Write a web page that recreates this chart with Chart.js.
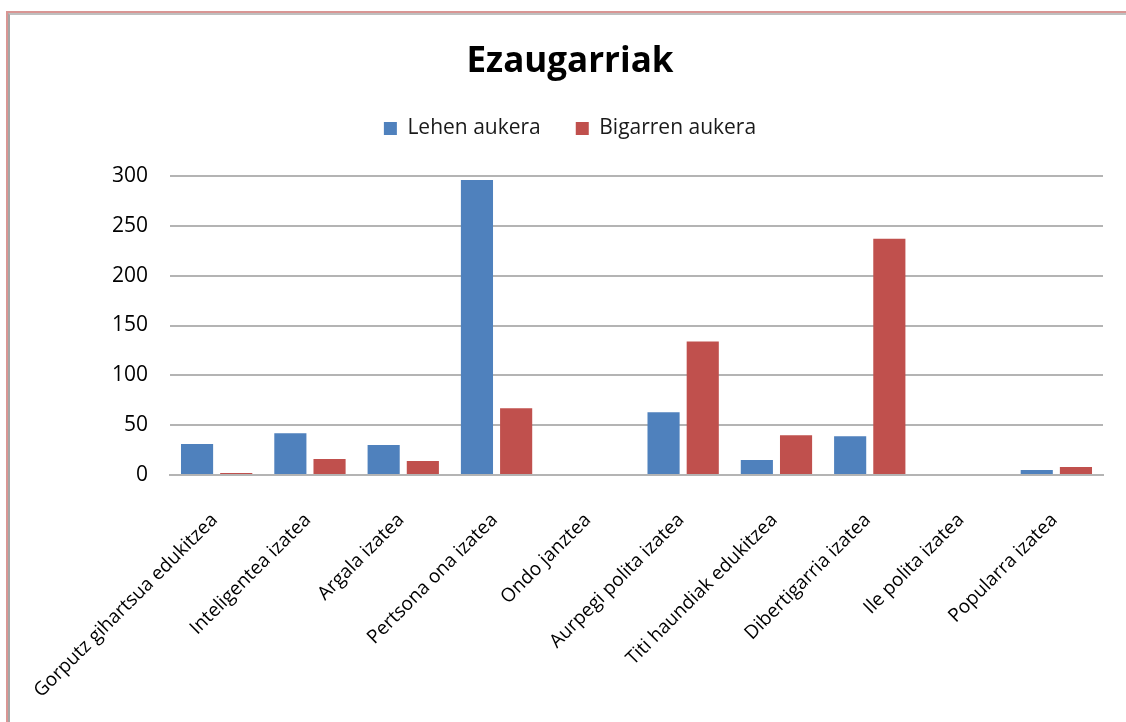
<!DOCTYPE html>
<html>
<head>
<meta charset="utf-8">
<script src="https://cdn.jsdelivr.net/npm/chart.js@4"></script>
<style>
  html, body { margin: 0; padding: 0; background: #fff; }
  #wrap { position: relative; width: 1126px; height: 722px; overflow: hidden; }
  #frame { position: absolute; left: 6px; top: 11px; right: -10px; bottom: -10px;
           border-left: 2px solid #d99694; border-top: 2px solid #d99694; }
  #frame2 { position: absolute; left: 8px; top: 13px; right: -10px; bottom: -10px;
            border-left: 2px solid #a6a6a6; border-top: 2px solid #bfbfbf; }
  canvas { position: absolute; left: 0; top: 0; }
</style>
</head>
<body>
<div id="wrap">
  <canvas id="chart" width="1126" height="722"></canvas>
  <div id="frame"></div>
  <div id="frame2"></div>
</div>
<script>
// Chart data
const categories = [
    'Gorputz gihartsua edukitzea',
    'Inteligentea izatea',
    'Argala izatea',
    'Pertsona ona izatea',
    'Ondo janztea',
    'Aurpegi polita izatea',
    'Titi haundiak edukitzea',
    'Dibertigarria izatea',
    'Ile polita izatea',
    'Popularra izatea'
];
const lehenAukera = [31, 42, 30, 296, 0, 63, 15, 39, 0, 5];
const bigarrenAukera = [2, 16, 14, 67, 1, 134, 40, 237, 1, 8];
const yTicks = [0, 50, 100, 150, 200, 250, 300];

const fontFamily = '"Open Sans", sans-serif';

const ctx = document.getElementById('chart').getContext('2d');
new Chart(ctx, {
    type: 'bar',
    data: {
        labels: categories,
        datasets: [
            {
                label: 'Lehen aukera',
                data: lehenAukera,
                backgroundColor: '#4f81bd',
                borderWidth: 0,
                categoryPercentage: 0.84,
                barPercentage: 0.82
            },
            {
                label: 'Bigarren aukera',
                data: bigarrenAukera,
                backgroundColor: '#c0504d',
                borderWidth: 0,
                categoryPercentage: 0.84,
                barPercentage: 0.82
            }
        ]
    },
    options: {
        responsive: false,
        animation: false,
        layout: {
            padding: { top: 15, left: 37, right: 23, bottom: 10 }
        },
        plugins: {
            title: {
                display: true,
                text: 'Ezaugarriak',
                color: '#000',
                font: { family: fontFamily, size: 35, weight: 'bold' },
                padding: { top: 26, bottom: 0 }
            },
            // empty subtitle used as a spacer between legend and plot
            subtitle: {
                display: true,
                text: '',
                weight: 500,
                font: { size: 10, lineHeight: 1 },
                padding: { top: 17, bottom: 0 }
            },
            legend: {
                display: true,
                position: 'top',
                labels: {
                    color: '#1a1a1a',
                    font: { family: fontFamily, size: 21 },
                    boxWidth: 13,
                    boxHeight: 13,
                    padding: 35
                }
            },
            tooltip: { enabled: false }
        },
        scales: {
            x: {
                afterFit: function(scale) {
                    scale.height = 237;
                },
                grid: { display: false },
                border: { color: '#b4b4b4', width: 2 },
                ticks: {
                    color: '#000',
                    font: { family: fontFamily, size: 19 },
                    minRotation: 45,
                    maxRotation: 45,
                    autoSkip: false,
                    padding: 26,
                    labelOffset: -2
                }
            },
            y: {
                min: 0,
                max: 300,
                afterBuildTicks: function(scale) {
                    scale.ticks = yTicks.map(function(v) { return { value: v }; });
                },
                afterFit: function(scale) {
                    scale.width = 133;
                },
                grid: { color: '#b4b4b4', lineWidth: 2, drawTicks: false },
                border: { display: false },
                ticks: {
                    color: '#000',
                    font: { family: fontFamily, size: 21 },
                    padding: 22
                }
            }
        }
    }
});
</script>
</body>
</html>
